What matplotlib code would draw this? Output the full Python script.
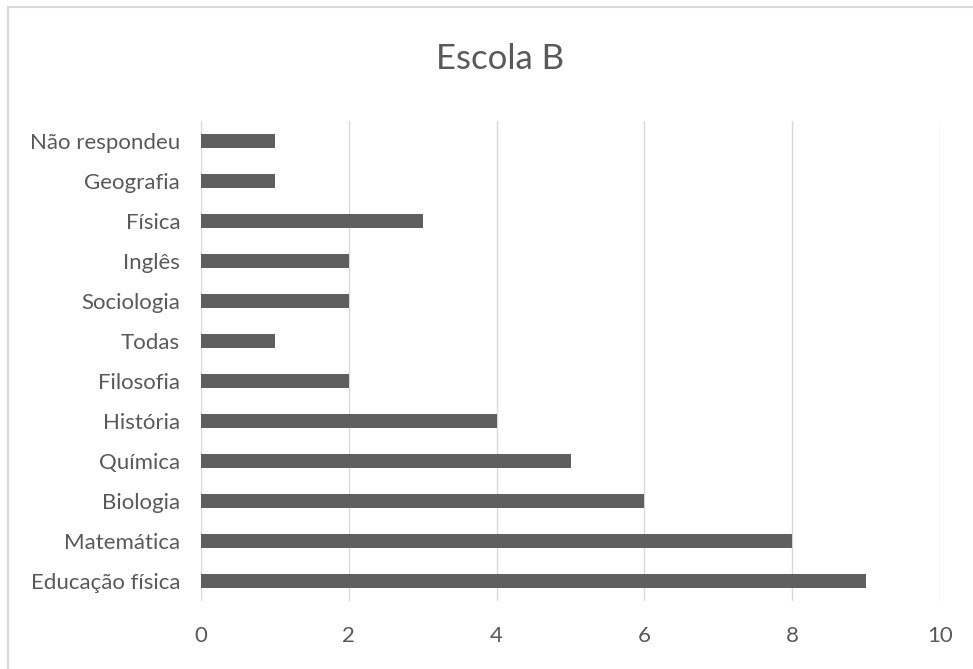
import matplotlib
matplotlib.use("Agg")
import matplotlib.pyplot as plt
from matplotlib.lines import Line2D

categories = ["Educação física", "Matemática", "Biologia", "Química", "História",
              "Filosofia", "Todas", "Sociologia", "Inglês", "Física", "Geografia",
              "Não respondeu"]
values = [9, 8, 6, 5, 4, 2, 1, 2, 2, 3, 1, 1]
xticks = [0, 2, 4, 6, 8, 10]
title = "Escola B"

W, H = 973, 669
plt.rcParams['font.family'] = ['Lato', 'DejaVu Sans']
fig = plt.figure(figsize=(W / 100, H / 100), dpi=100)

left, right, top, bottom = 201, 940, 121, 601
ax = fig.add_axes([left / W, 1 - bottom / H, (right - left) / W, (bottom - top) / H])

text_color = "#595959"
ypos = list(range(len(categories)))
ax.barh(ypos, values, height=0.36, color="#5f5f5f", zorder=3)
ax.set_ylim(-0.5, len(categories) - 0.5)
ax.set_xlim(0, 10)
ax.set_xticks(xticks)
ax.set_xticklabels([str(t) for t in xticks])
ax.set_yticks(ypos)
ax.set_yticklabels(categories)
ax.xaxis.grid(True, color="#d9d9d9", linewidth=1.0, zorder=0)
ax.yaxis.grid(False)
for s in ax.spines.values():
    s.set_visible(False)
ax.tick_params(axis="both", length=0, colors=text_color, labelsize=16)
ax.tick_params(axis="y", pad=15)
ax.tick_params(axis="x", pad=18)

fig.text(500 / W, 1 - 59 / H, title, ha="center", va="center", fontsize=25, color=text_color)

fig.add_artist(Line2D([8 / W, 8 / W], [0, 1 - 7 / H], transform=fig.transFigure, color="#d9d9d9", linewidth=1.5))
fig.add_artist(Line2D([8 / W, 1], [1 - 7 / H, 1 - 7 / H], transform=fig.transFigure, color="#d9d9d9", linewidth=1.5))

fig.savefig("out.png", dpi=100, facecolor="white")
